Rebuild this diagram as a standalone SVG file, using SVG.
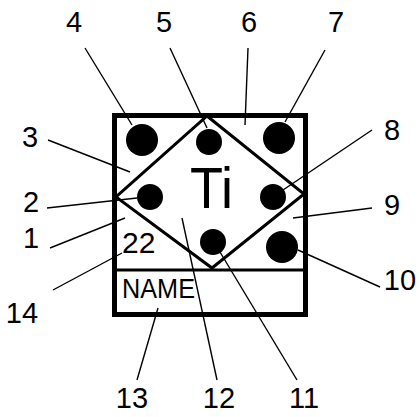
<svg xmlns="http://www.w3.org/2000/svg" width="420" height="417" viewBox="0 0 420 417">
<style>
.lbl{font-family:"Liberation Sans",Arial,sans-serif;font-size:29px;fill:#000;text-anchor:middle}
.lead{stroke:#000;stroke-width:1.4;fill:none}
.dot{fill:#000}
</style>
<rect width="420" height="417" fill="#fff"/>
<g id="cell">
<rect x="114.5" y="115.5" width="191" height="199" fill="none" stroke="#000" stroke-width="5"/>
<line x1="114.5" y1="270" x2="305.5" y2="270" stroke="#000" stroke-width="3"/>
<polygon points="207,116 304,194 212,268 116,197" fill="none" stroke="#000" stroke-width="3"/>
<circle class="dot" cx="142" cy="140" r="16"/>
<circle class="dot" cx="209" cy="142" r="13"/>
<circle class="dot" cx="279" cy="138" r="16"/>
<circle class="dot" cx="150" cy="197" r="13"/>
<circle class="dot" cx="273" cy="197" r="13"/>
<circle class="dot" cx="213" cy="242" r="13"/>
<circle class="dot" cx="282" cy="247" r="16"/>
<text x="190" y="208" font-family="Liberation Sans,Arial,sans-serif" font-size="58" textLength="43" lengthAdjust="spacingAndGlyphs">Ti</text>
<text x="122" y="253" font-family="Liberation Sans,Arial,sans-serif" font-size="30">22</text>
<text x="122" y="298" font-family="Liberation Sans,Arial,sans-serif" font-size="27" textLength="73" lengthAdjust="spacingAndGlyphs">NAME</text>
</g>
<g id="connectors">
<line class="lead" x1="85" y1="48" x2="132" y2="125"/>
<line class="lead" x1="170" y1="48" x2="207" y2="128"/>
<line class="lead" x1="248" y1="48" x2="245" y2="125"/>
<line class="lead" x1="325" y1="50" x2="285" y2="122"/>
<line class="lead" x1="48" y1="140" x2="130" y2="172"/>
<line class="lead" x1="372" y1="130" x2="283" y2="190"/>
<line class="lead" x1="47" y1="208" x2="137" y2="198"/>
<line class="lead" x1="372" y1="208" x2="293" y2="218"/>
<line class="lead" x1="50" y1="248" x2="125" y2="218"/>
<line class="lead" x1="53" y1="290" x2="122" y2="253"/>
<line class="lead" x1="380" y1="287" x2="298" y2="250"/>
<line class="lead" x1="137" y1="380" x2="158" y2="308"/>
<line class="lead" x1="217" y1="380" x2="182" y2="218"/>
<line class="lead" x1="297" y1="380" x2="220" y2="252"/>
</g>
<g id="labels">
<text class="lbl" x="74" y="32">4</text>
<text class="lbl" x="164" y="32">5</text>
<text class="lbl" x="249" y="32">6</text>
<text class="lbl" x="336" y="32">7</text>
<text class="lbl" x="30" y="147">3</text>
<text class="lbl" x="392" y="140">8</text>
<text class="lbl" x="31" y="212">2</text>
<text class="lbl" x="392" y="215">9</text>
<text class="lbl" x="31" y="248">1</text>
<text class="lbl" x="400" y="290">10</text>
<text class="lbl" x="22" y="323">14</text>
<text class="lbl" x="132" y="408">13</text>
<text class="lbl" x="219" y="408">12</text>
<text class="lbl" x="304" y="408">11</text>
</g>
</svg>
